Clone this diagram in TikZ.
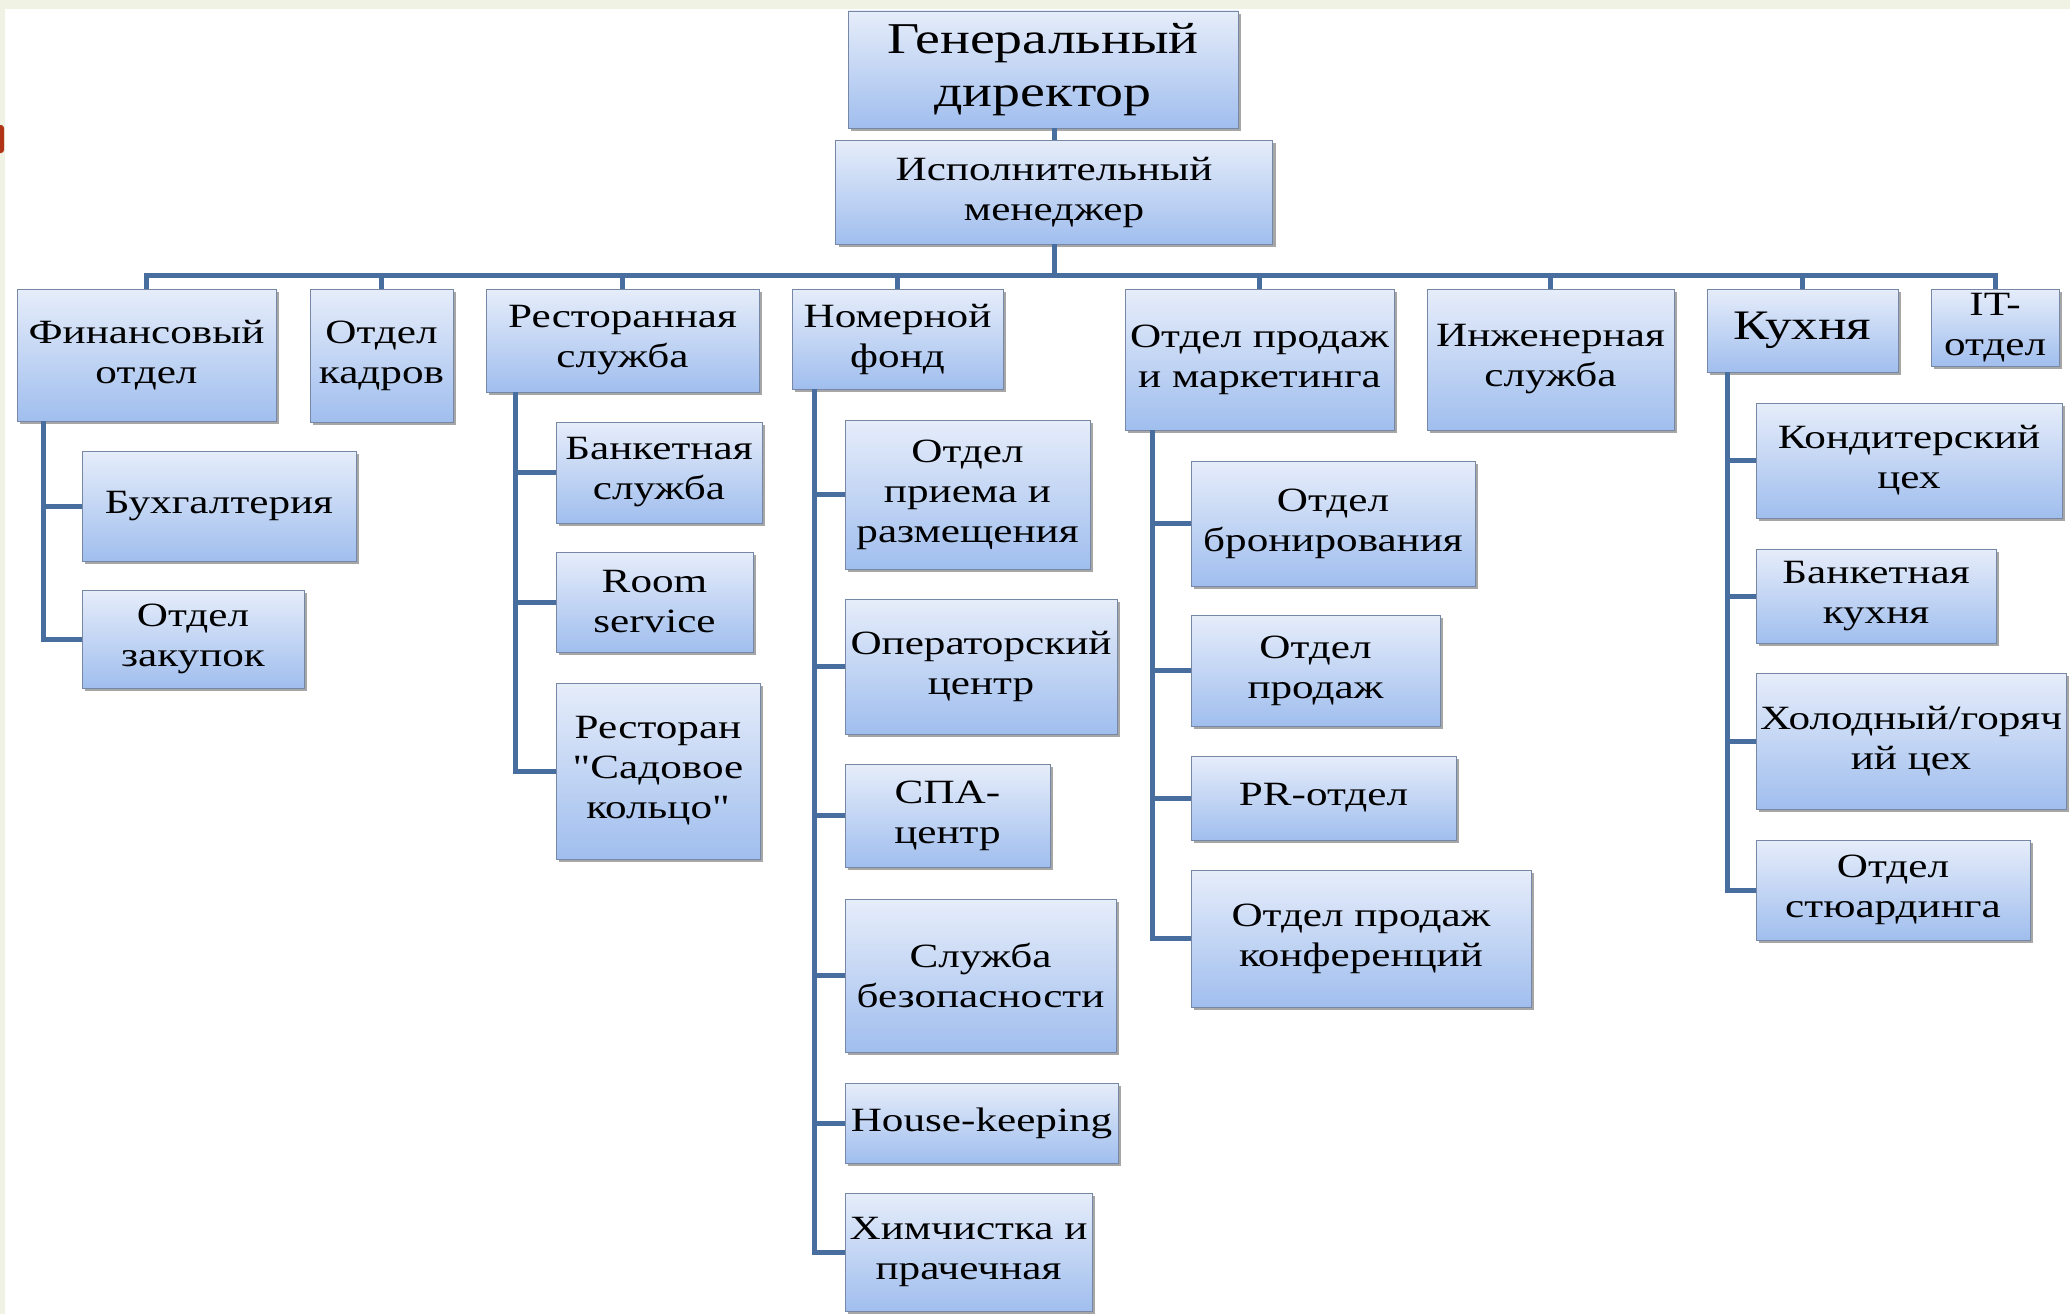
\documentclass[tikz,border=0pt]{standalone}
\usepackage{fontspec}
\setmainfont{Liberation Serif}[FakeStretch=1.27,Ligatures=TeXOff]
\usepackage{tikz}
\usetikzlibrary{shadows}
\definecolor{boxtop}{RGB}{230,237,250}
\definecolor{boxbot}{RGB}{160,190,238}
\definecolor{boxline}{RGB}{118,136,166}
\definecolor{linkblue}{RGB}{72,110,160}
\definecolor{paper}{RGB}{240,242,228}
\definecolor{tabred}{RGB}{178,52,22}

\begin{document}
\begin{tikzpicture}[x=1pt,y=-1pt]
\useasboundingbox (0,0) rectangle (2070,1314);
\fill[paper] (0,0) rectangle (2070,1314);
\fill[white] (5,9) rectangle (2070,1314);
\fill[tabred,rounded corners=3] (-6,125) rectangle (4,153);

\begin{scope}[every node/.style={draw=boxline,thin,top color=boxtop,bottom color=boxbot,
      drop shadow={shadow xshift=3pt,shadow yshift=-3pt,fill=black,opacity=0.35},
      align=center,inner sep=2pt,font=\fontsize{34}{40}\selectfont}]
    \node[minimum width=390,minimum height=117,font=\fontsize{44}{53}\selectfont] (gen) at (1043,69.5) {Генеральный\\директор};
    \node[minimum width=437,minimum height=104] (mgr) at (1054,192) {Исполнительный\\менеджер};
    % second level
    \node[minimum width=259,minimum height=132] (fin) at (146.5,355) {Финансовый\\отдел};
    \node[minimum width=143,minimum height=133] (hr) at (381.5,355.5) {Отдел\\кадров};
    \node[minimum width=273,minimum height=103] (rest) at (622.5,340.5) {Ресторанная\\служба};
    \node[minimum width=211,minimum height=100] (room) at (897.5,339) {Номерной\\фонд};
    \node[minimum width=269,minimum height=141] (sales) at (1259.5,359.5) {Отдел продаж\\и маркетинга};
    \node[minimum width=247,minimum height=141] (eng) at (1550.5,359.5) {Инженерная\\служба};
    \node[minimum width=191,minimum height=83,font=\fontsize{42}{48}\selectfont] (kit) at (1802.5,330.5) {Кухня};
    \node[minimum width=128,minimum height=77] (it) at (1995,327.5) {IT-\\отдел};
    % finance
    \node[minimum width=274,minimum height=110] (buh) at (219,506) {Бухгалтерия};
    \node[minimum width=222,minimum height=98] (zak) at (193,639) {Отдел\\закупок};
    % restaurant
    \node[minimum width=206,minimum height=101] (banq) at (659,472.5) {Банкетная\\служба};
    \node[minimum width=197,minimum height=100] (rsv) at (654.5,602) {Room\\service};
    \node[minimum width=204,minimum height=176] (sad) at (658,771) {Ресторан\\"Садовое\\кольцо"};
    % rooms
    \node[minimum width=245,minimum height=149] (rec) at (967.5,494.5) {Отдел\\приема и\\размещения};
    \node[minimum width=272,minimum height=135] (oper) at (981,666.5) {Операторский\\центр};
    \node[minimum width=205,minimum height=103] (spa) at (947.5,815.5) {СПА-\\центр};
    \node[minimum width=271,minimum height=153] (sec) at (980.5,975.5) {Служба\\безопасности};
    \node[minimum width=273,minimum height=80] (hk) at (981.5,1123) {House-keeping};
    \node[minimum width=247,minimum height=118] (chem) at (968.5,1252) {Химчистка и\\прачечная};
    % sales
    \node[minimum width=284,minimum height=125] (bron) at (1333,523.5) {Отдел\\бронирования};
    \node[minimum width=249,minimum height=111] (sprod) at (1315.5,670.5) {Отдел\\продаж};
    \node[minimum width=265,minimum height=84] (pr) at (1323.5,798) {PR-отдел};
    \node[minimum width=340,minimum height=137] (conf) at (1361,938.5) {Отдел продаж\\конференций};
    % kitchen
    \node[minimum width=306,minimum height=115] (kond) at (1909,460.5) {Кондитерский\\цех};
    \node[minimum width=240,minimum height=94] (bk) at (1876,596) {Банкетная\\кухня};
    \node[minimum width=310,minimum height=136] (hot) at (1911,741) {Холодный/горяч\\ий цех};
    \node[minimum width=274,minimum height=100] (stew) at (1893,890) {Отдел\\стюардинга};
\end{scope}

\coordinate (bus) at (0,275);
\coordinate (finT) at ([xshift=27pt]fin.south west);
\coordinate (restT) at ([xshift=30pt]rest.south west);
\coordinate (roomT) at ([xshift=23pt]room.south west);
\coordinate (salesT) at ([xshift=28pt]sales.south west);
\coordinate (kitT) at ([xshift=21pt]kit.south west);

\begin{scope}[every path/.style={draw=linkblue,line width=5pt}]
    \path (mgr.north) -- (mgr.north |- gen.south);
    \path (mgr.south) -- (mgr.south |- bus);
    \path (fin.north) -- (fin.north |- bus) -- (it.north |- bus) -- (it.north);
    \foreach \n in {hr,rest,room,sales,eng,kit}
        \path (\n.north) -- (\n.north |- bus);
    \path (finT) |- (zak.west);
    \path (buh.west) -- (buh.west -| finT);
    \path (restT) |- (sad.west);
    \foreach \n in {banq,rsv}
        \path (\n.west) -- (\n.west -| restT);
    \path (roomT) |- (chem.west);
    \foreach \n in {rec,oper,spa,sec,hk}
        \path (\n.west) -- (\n.west -| roomT);
    \path (salesT) |- (conf.west);
    \foreach \n in {bron,sprod,pr}
        \path (\n.west) -- (\n.west -| salesT);
    \path (kitT) |- (stew.west);
    \foreach \n in {kond,bk,hot}
        \path (\n.west) -- (\n.west -| kitT);
\end{scope}
\end{tikzpicture}
\end{document}
